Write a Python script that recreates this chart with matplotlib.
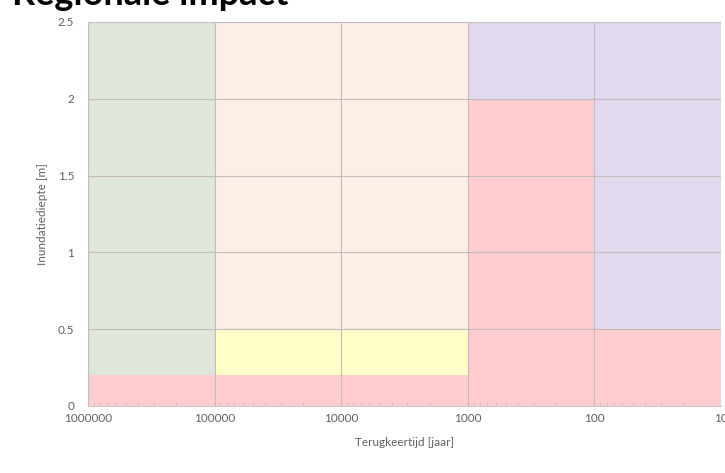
import matplotlib
matplotlib.use('Agg')
import matplotlib.pyplot as plt
from matplotlib.ticker import FixedLocator, LogLocator, NullFormatter

plt.rcParams['font.family'] = ['Lato', 'DejaVu Sans']

# blocks of the impact matrix (return period range x inundation depth range)
period_from = [1e6, 1e6, 1e5, 1e5, 1e5, 1e3, 1e3, 1e2, 1e2]
period_to = [1e5, 1e5, 1e3, 1e3, 1e3, 1e2, 1e2, 10, 10]
depth_low = [0.0, 0.2, 0.0, 0.2, 0.5, 0.0, 2.0, 0.0, 0.5]
depth_high = [0.2, 2.5, 0.2, 0.5, 2.5, 2.0, 2.5, 0.5, 2.5]
zone = ['rood', 'groen', 'rood', 'geel', 'perzik', 'rood', 'paars', 'rood', 'paars']

x_ticks = [1000000, 100000, 10000, 1000, 100, 10]
y_ticks = [0, 0.5, 1, 1.5, 2, 2.5]
y_labels = ['0', '0.5', '1', '1.5', '2', '2.5']

zone_colors = {
    'rood': '#ffcdd0',
    'groen': '#dfe6da',
    'geel': '#ffffc8',
    'perzik': '#fdeee6',
    'paars': '#e1d9ed',
}

fig = plt.figure(figsize=(7.25, 4.73), dpi=100)
ax = fig.add_axes([88 / 725, 1 - 406 / 473, 633 / 725, 384 / 473])

for x0, x1, y0, y1, z in zip(period_from, period_to, depth_low, depth_high, zone):
    ax.bar(x0, y1 - y0, width=x1 - x0, bottom=y0, align='edge',
           color=zone_colors[z], edgecolor='none', zorder=1)

ax.set_xscale('log')
ax.set_xlim(1e6, 10)
ax.set_ylim(0, 2.5)

ax.xaxis.set_major_locator(FixedLocator(x_ticks))
ax.set_xticklabels([str(v) for v in x_ticks])
ax.xaxis.set_minor_locator(LogLocator(base=10, subs=range(2, 10)))
ax.xaxis.set_minor_formatter(NullFormatter())
ax.set_yticks(y_ticks)
ax.set_yticklabels(y_labels)

ax.grid(True, which='major', color='#c4bcbc', linewidth=0.8, zorder=2)
ax.set_axisbelow(False)

for s in ['top', 'right', 'left']:
    ax.spines[s].set_visible(False)
ax.spines['bottom'].set_color('#d0c8c8')

ax.tick_params(axis='both', which='major', length=0, labelsize=8.5,
               labelcolor='#606060')
ax.tick_params(axis='x', which='major', pad=5)
ax.tick_params(axis='y', which='major', pad=10)
ax.tick_params(axis='x', which='minor', direction='in', length=3,
               color='#d0c0c0', width=0.6)

ax.set_xlabel('Terugkeertijd [jaar]', fontsize=8.5, color='#606060')
ax.set_ylabel('Inundatiediepte [m]', fontsize=8.5, color='#606060')
ax.xaxis.set_label_coords(0.5, -31 / 384)
ax.yaxis.set_label_coords(-40 / 633, 0.5)

# title, mostly cut off at the top edge in the reference
fig.text(12 / 725, 1 - 5 / 473, 'Regionale impact', fontsize=26, fontweight='bold',
         color='black', ha='left', va='baseline')

fig.savefig('out.png', dpi=100)
